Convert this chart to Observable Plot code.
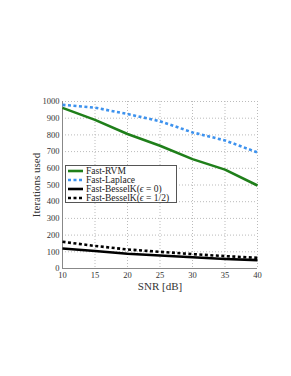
<!DOCTYPE html>
<html><head><meta charset="utf-8">
<script src="https://cdn.jsdelivr.net/npm/d3@7"></script>
<script src="https://cdn.jsdelivr.net/npm/@observablehq/plot@0.6"></script>
<style>
body{margin:0;background:#fff;}
#wrap{position:relative;width:291px;height:376px;font-family:"Liberation Serif",serif;}
#legend{position:absolute;left:65px;top:165px;width:112px;height:38px;border:1px solid #555;background:#fff;box-sizing:border-box;font-size:9.5px;line-height:8.9px;padding-top:1px;}
#legend div{display:flex;align-items:center;white-space:nowrap;color:#222;}
#legend svg{margin:0 2px 0 1px;}
</style></head><body>
<div id="wrap"><div id="chart"></div><div id="legend"></div></div>
<script>
const snr = [10, 15, 20, 25, 30, 35, 40];
const rvm = [962, 890, 805, 735, 655, 592, 497];
const laplace = [980, 963, 925, 882, 815, 767, 695];
const bessel0 = [120, 105, 88, 78, 67, 57, 50];
const besselHalf = [160, 135, 114, 100, 86, 74, 64];
const xTicks = [10, 15, 20, 25, 30, 35, 40];
const yTicks = [0, 100, 200, 300, 400, 500, 600, 700, 800, 900, 1000];

const seriesDefs = [
  {name: "Fast-RVM", values: rvm, color: "#1f7f1a", dash: null},
  {name: "Fast-Laplace", values: laplace, color: "#3d92ee", dash: "3,2.5"},
  {name: "Fast-BesselK(\u03F5 = 0)", values: bessel0, color: "#000", dash: null},
  {name: "Fast-BesselK(\u03F5 = 1/2)", values: besselHalf, color: "#000", dash: "3,2.5"}
];
const rows = seriesDefs.flatMap(s => snr.map((x, i) => ({series: s.name, x, y: s.values[i]})));

const lines = seriesDefs.map(s => Plot.line(rows.filter(r => r.series === s.name), {
  x: "x", y: "y", stroke: s.color, strokeWidth: 2.6, strokeDasharray: s.dash, strokeLinecap: "butt"
}));

const chart = Plot.plot({
  width: 291, height: 376,
  marginTop: 101, marginBottom: 108, marginLeft: 62, marginRight: 34,
  style: {fontFamily: "Liberation Serif, serif", fontSize: "9px", color: "#333", background: "#fff"},
  x: {domain: [10, 40]},
  y: {domain: [0, 1000]},
  marks: [
    Plot.gridX(xTicks, {stroke: "#bbb", strokeOpacity: 1, strokeDasharray: "1,2"}),
    Plot.gridY(yTicks, {stroke: "#bbb", strokeOpacity: 1, strokeDasharray: "1,2"}),
    Plot.ruleX([10], {stroke: "#888", strokeWidth: 1}),
    Plot.ruleY([0], {stroke: "#888", strokeWidth: 1}),
    ...lines,
    Plot.axisX({ticks: xTicks, tickSize: 0, tickPadding: 3.5, fontSize: 8.5, tickFormat: d => String(d), label: "SNR [dB]", labelAnchor: "center", labelOffset: 21, labelArrow: "none"}),
    Plot.axisY({ticks: yTicks, tickSize: 0, tickPadding: 3, fontSize: 8.5, tickFormat: d => String(d), label: "Iterations used", labelAnchor: "center", labelOffset: 30, labelArrow: "none"})
  ]
});
chart.querySelectorAll("[aria-label='x-axis label'] text, [aria-label='y-axis label'] text").forEach(t => t.style.fontSize = "11px");
document.getElementById("chart").appendChild(chart);

const leg = document.getElementById("legend");
seriesDefs.forEach(s => {
  const d = document.createElement("div");
  d.innerHTML = `<svg width="17" height="8"><line x1="1" x2="16" y1="4" y2="4" stroke="${s.color}" stroke-width="2.6" ${s.dash ? `stroke-dasharray="${s.dash}"` : ""}/></svg><span>${s.name.replace("\u03F5", "<i>\u03F5</i>")}</span>`;
  leg.appendChild(d);
});
</script>
</body></html>
